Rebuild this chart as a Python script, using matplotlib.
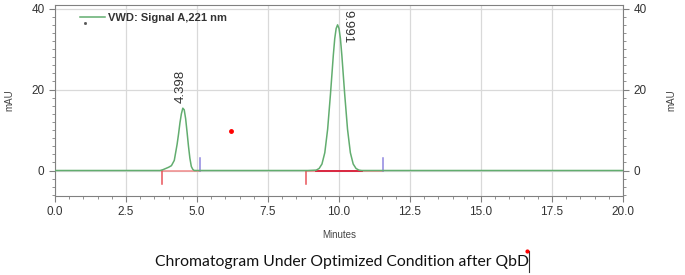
import matplotlib.pyplot as plt
from matplotlib.ticker import MultipleLocator

# trace points (minutes, mAU)
time_min = [0.0, 3.7, 3.8, 3.9, 4.0, 4.1, 4.2, 4.25, 4.3, 4.35, 4.4, 4.45, 4.5, 4.55,
            4.6, 4.65, 4.7, 4.75, 4.8, 4.85, 4.9,
            8.9, 9.2, 9.3, 9.4, 9.5, 9.6, 9.7, 9.8, 9.85, 9.9, 9.95, 10.0, 10.05,
            10.1, 10.2, 10.3, 10.4, 10.5, 10.6, 10.7, 10.8, 20.0]
signal = [0.0, 0.0, 0.2, 0.5, 0.8, 1.2, 2.5, 4.5, 6.5, 9.0, 11.8, 14.0, 15.4, 15.0,
          12.8, 9.5, 6.0, 3.0, 1.0, 0.3, 0.0,
          0.0, 0.1, 0.5, 1.6, 4.4, 10.2, 18.9, 28.5, 32.6, 35.1, 36.0, 35.1, 32.6,
          28.5, 18.9, 10.2, 4.4, 1.6, 0.5, 0.1, 0.0, 0.0]

# integration events
peak_rt = [4.52, 9.95]
peak_top = [15.4, 36.0]
peak_labels = ['4.398', '9.991']
base_start = [3.75, 8.85]
base_end = [5.1, 11.55]
stray_point = (6.2, 9.8)

green = '#62ad6f'
plt.rcParams['font.family'] = ['Liberation Sans', 'DejaVu Sans']

fig = plt.figure(figsize=(6.85, 2.75), dpi=100)
ax = fig.add_axes([55 / 685, 1 - 196 / 275, 568 / 685, 191 / 275])

ax.plot(time_min, signal, color=green, lw=1.1, label='VWD: Signal A,221 nm', zorder=3)

for s, e in zip(base_start, base_end):
    ax.plot([s, e], [-0.15, -0.15], color='#f28a8a', lw=1.1, zorder=2)
    ax.plot([s, s], [0, -3.3], color='#e8545a', lw=1.1, zorder=2)
    ax.plot([e, e], [0, 3.0], color='#8f86e0', lw=1.1, zorder=2)
ax.plot([9.2, 10.8], [-0.15, -0.15], color='#d81f3a', lw=1.3, zorder=2)

ax.plot(*stray_point, 'o', color='red', ms=2.5)

ax.text(peak_rt[0] - 0.1, peak_top[0] + 1.3, peak_labels[0], rotation=90,
        ha='center', va='bottom', fontsize=9.5, color='#333333')
ax.text(peak_rt[1] + 0.33, 39.6, peak_labels[1], rotation=-90,
        ha='center', va='top', fontsize=9.5, color='#333333')

ax.set_xlim(0, 20)
ax.set_ylim(-6.3, 40.9)
ax.xaxis.set_major_locator(MultipleLocator(2.5))
ax.xaxis.set_minor_locator(MultipleLocator(0.5))
ax.yaxis.set_major_locator(MultipleLocator(20))
ax.yaxis.set_minor_locator(MultipleLocator(2))
ax.set_xticklabels([f'{v:.1f}' for v in ax.get_xticks()])
ax.grid(True, which='major', color='#d9d9d9', lw=0.9)
ax.set_axisbelow(True)

for sp in ax.spines.values():
    sp.set_color('#808080')
ax.tick_params(which='both', colors='#808080', labelcolor='#333333', labelsize=8.5)
ax.tick_params(which='major', length=4)
ax.tick_params(which='minor', length=2.5)
ax.set_ylabel('mAU', fontsize=7, color='#444444', labelpad=12)
ax.set_xlabel('Minutes', fontsize=7, color='#444444', labelpad=8)

ax2 = ax.twinx()
ax2.set_ylim(ax.get_ylim())
ax2.yaxis.set_major_locator(MultipleLocator(20))
ax2.yaxis.set_minor_locator(MultipleLocator(2))
ax2.tick_params(which='both', colors='#808080', labelcolor='#333333', labelsize=8.5)
ax2.tick_params(which='major', length=4)
ax2.tick_params(which='minor', length=2.5)
for sp in ax2.spines.values():
    sp.set_visible(False)
ax2.set_ylabel('mAU', fontsize=7, color='#444444', labelpad=14)

leg = ax.legend(loc='upper left', bbox_to_anchor=(0.027, 1.01), frameon=False,
                handlelength=2.2, handletextpad=0.3, prop={'size': 8, 'weight': 'bold'})
for t in leg.get_texts():
    t.set_color('#333333')
# small speck under the legend sample
ax.plot([1.06], [36.4], 's', color='#555555', ms=1)

fig.text(342 / 685, 1 - 262 / 275, 'Chromatogram Under Optimized Condition after QbD',
         ha='center', va='center', fontsize=11.3, family=['Lato', 'DejaVu Sans'], color='#111111')
# text cursor at the end of the caption
fig.add_artist(plt.Line2D([529 / 685, 529 / 685], [1 - 272 / 275, 1 - 251 / 275],
                          color='#333333', lw=0.8))
fig.add_artist(plt.Line2D([527 / 685], [1 - 251 / 275], marker='o', ms=2, color='red'))

fig.savefig('out.png', dpi=100)
